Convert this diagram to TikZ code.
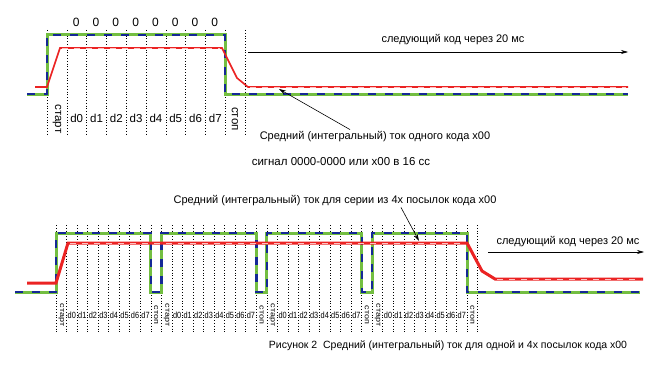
\documentclass[tikz,border=0pt]{standalone}
\usepackage{fontspec}
\setmainfont{Liberation Sans}
\usetikzlibrary{arrows.meta}
\definecolor{sgreen}{RGB}{115,190,65}
\definecolor{sblue}{RGB}{20,40,150}
\definecolor{sred}{RGB}{235,35,35}
\begin{document}
\begin{tikzpicture}[x=1pt,y=-1pt,
  greenline/.style={sgreen,line width=3pt},
  blueline/.style={sblue,line width=2.4pt,dash pattern=on 8pt off 9pt},
  redthin/.style={sred,line width=1.6pt},
  redthick/.style={sred,line width=3pt},
  reddash/.style={red!25,line width=0.5pt,dash pattern=on 6pt off 6pt},
  dotline/.style={black,line width=0.6pt,dash pattern=on 0.8pt off 2pt},
  lbl/.style={font=\fontsize{11}{12}\selectfont,inner sep=0pt},
  zero/.style={font=\fontsize{12}{12}\selectfont,inner sep=0pt},
  bitlbl/.style={font=\fontsize{11.5}{12}\selectfont,inner sep=0pt},
  smallbit/.style={font=\fontsize{9}{9}\selectfont,inner sep=0pt,xscale=0.82},
  vlbl/.style={rotate=-90,inner sep=0pt},
  arr/.style={-{Stealth[length=7pt,width=4pt]},line width=0.6pt}]
\useasboundingbox (0,0) rectangle (660,369);
% ================= TOP =================
\foreach \i in {0,...,10}{
  \draw[dotline] (47+19.8*\i,30) -- (47+19.8*\i,136);
}
% signal
\draw[greenline] (27,94) -- (47,94) -- (47,35) -- (225,35) -- (225,94) -- (628,94);
\draw[blueline] (27,94) -- (47,94) -- (47,35) -- (225,35) -- (225,94) -- (628,94);
% red
\draw[redthin] (35,87) -- (47,87) -- (60,48) -- (222,48) -- (237,78) -- (248,87) -- (628,87);
\draw[reddash] (62,48) -- (220,48);
\draw[reddash] (250,87) -- (626,87);
% labels
\node[bitlbl,vlbl] (tstart) at (57,119) {старт};
\foreach \i in {0,...,7}{
  \node[bitlbl] (td\i) at (47+19.8*\i+29.7,118) {d\i};
  \node[zero] (tz\i) at (47+19.8*\i+29.2,22) {0};
}
\node[bitlbl,vlbl] (tstop) at (235,119) {стоп};
% next code arrow
\node[lbl] (tnext) at (453,40) {следующий код через 20 мс};
\coordinate (tna) at (248,52);
\coordinate (tnb) at (628,52);
\draw[arr] (tna) -- (tnb);
% annotation
\node[lbl] (tann) at (375,137) {Средний (интегральный) ток одного кода x00};
\coordinate (ttip) at (279,89);
\draw[arr] ([xshift=-25pt,yshift=2pt]tann.north) -- (ttip);
\node[lbl,font=\fontsize{11.5}{12}\selectfont] (tcap) at (341,162) {сигнал 0000-0000 или x00 в 16 сс};
% ================= BOTTOM =================
\foreach \j in {0,...,40}{
  \draw[dotline] (56+10.54*\j,225) -- (56+10.54*\j,333);
}
\draw[greenline] (15,292) -- (56,292) -- (56,233)
  -- (150.9,233) -- (150.9,292) -- (161.4,292) -- (161.4,233)
  -- (256.3,233) -- (256.3,292) -- (266.8,292) -- (266.8,233)
  -- (361.7,233) -- (361.7,292) -- (372.2,292) -- (372.2,233)
  -- (467.1,233) -- (467.1,292) -- (640,292);
\draw[blueline] (15,292) -- (56,292) -- (56,233)
  -- (150.9,233) -- (150.9,292) -- (161.4,292) -- (161.4,233)
  -- (256.3,233) -- (256.3,292) -- (266.8,292) -- (266.8,233)
  -- (361.7,233) -- (361.7,292) -- (372.2,292) -- (372.2,233)
  -- (467.1,233) -- (467.1,292) -- (640,292);
\draw[redthick] (27,283) -- (56,283) -- (68,243) -- (467,243) -- (482,271) -- (495,279) -- (643,279);
\draw[reddash] (70,243) -- (465,243);
\draw[reddash] (497,279) -- (641,279);
% labels
\foreach \k in {0,...,3}{
  \pgfmathsetmacro{\sx}{56+105.4*\k}
  \node[smallbit,vlbl] (bstart\k) at (\sx+5.3,315) {старт};
  \foreach \i in {0,...,7}{
    \node[smallbit] (bd\k\i) at (\sx+10.54*\i+15.8,315) {d\i};
  }
  \node[smallbit,vlbl] (bstop\k) at (\sx+100.1,315) {стоп};
}
% annotation
\node[lbl] (bann) at (335,201) {Средний (интегральный) ток для серии из 4х посылок кода x00};
\coordinate (btip) at (419,241);
\draw[arr] ([xshift=66pt,yshift=-1pt]bann.south) -- (btip);
% next code arrow
\node[lbl] (bnext) at (568,242) {следующий код через 20 мс};
\coordinate (bna) at (488,252);
\coordinate (bnb) at (644,252);
\draw[arr] (bna) -- (bnb);
\node[lbl,font=\fontsize{10.5}{12}\selectfont] (bcap) at (448,346) {Рисунок 2\ \ Средний (интегральный) ток для одной и 4х посылок кода x00};
\end{tikzpicture}
\end{document}
